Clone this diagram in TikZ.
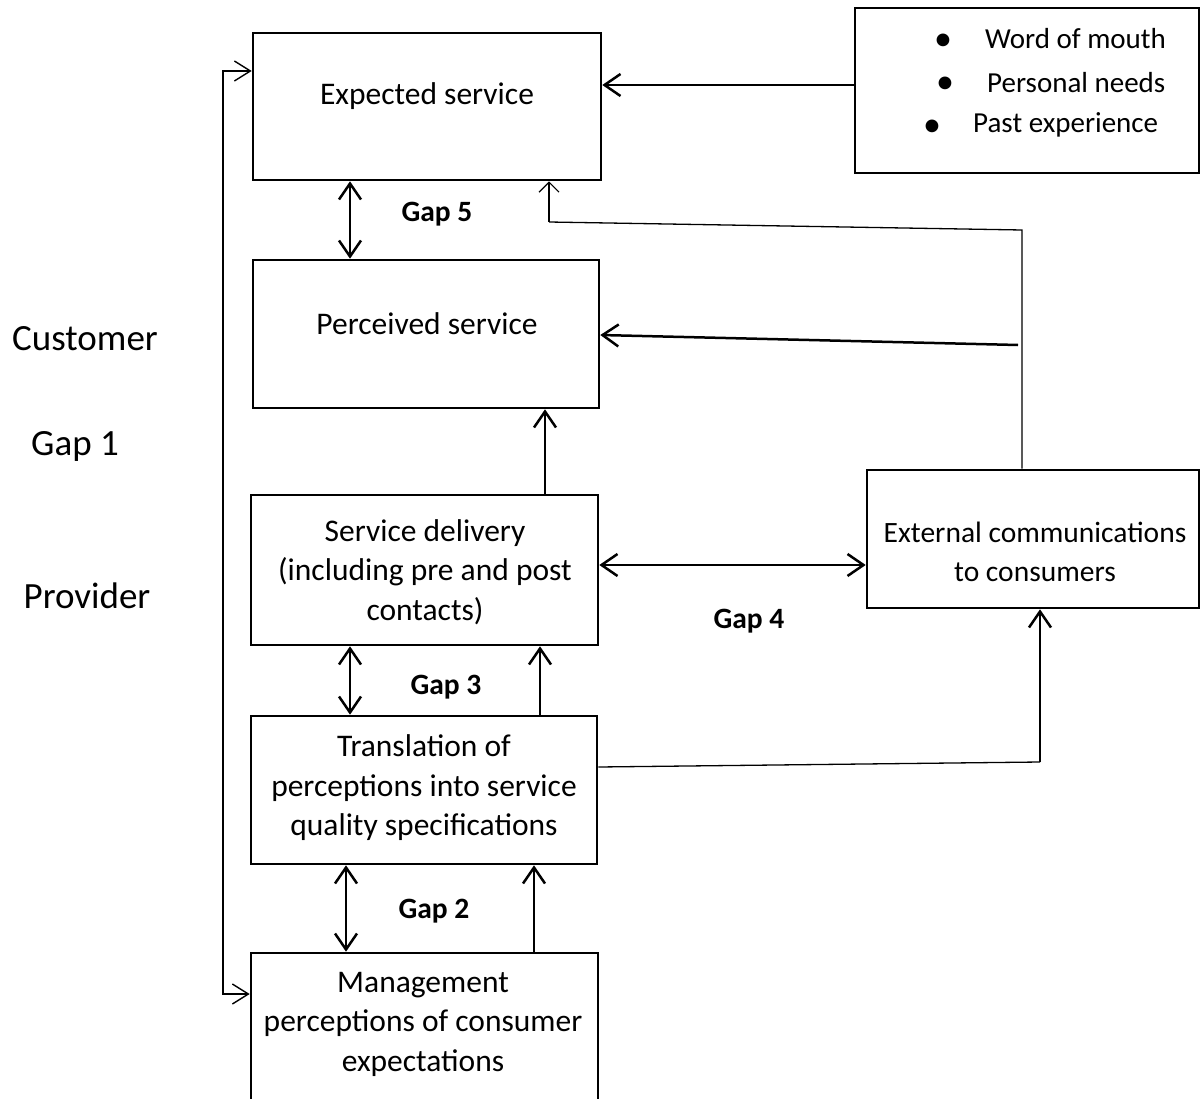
\documentclass[tikz,border=0pt]{standalone}
\usepackage{fontspec}
\setmainfont{Carlito}
\usetikzlibrary{arrows.meta}
\tikzset{
  box/.style={draw, line width=2.6pt, rectangle, inner sep=0pt},
  txt/.style={font=\fontsize{31.5pt}{39.5pt}\selectfont, align=center, inner sep=0pt},
  side/.style={font=\fontsize{37pt}{44pt}\selectfont, inner sep=0pt},
  gaplbl/.style={font=\fontsize{29.5pt}{36pt}\selectfont\bfseries, inner sep=0pt},
  bul/.style={font=\fontsize{29pt}{36pt}\selectfont, inner sep=0pt},
  dot/.style={font=\fontsize{36pt}{36pt}\selectfont, inner sep=0pt},
  arr/.style={line width=2.5pt, -{Straight Barb[length=16pt,width=22pt]}},
  dbl/.style={line width=2.5pt, {Straight Barb[length=16pt,width=22pt]}-{Straight Barb[length=16pt,width=22pt]}},
  thinarr/.style={line width=1.2pt, -{Straight Barb[length=10pt,width=20pt]}},
  loop/.style={line width=1.4pt, {Straight Barb[length=16pt,width=20pt]}-{Straight Barb[length=16pt,width=20pt]}},
  thinline/.style={line width=1.3pt}
}
\begin{document}
\begin{tikzpicture}[x=1pt,y=-1pt]
\useasboundingbox (0,0) rectangle (1201,1099);
% boxes
\node[box, minimum width=348pt, minimum height=147pt] (exp) at (427,106.5) {};
\node[box, minimum width=344pt, minimum height=165pt] (src) at (1027,90.5) {};
\node[box, minimum width=346pt, minimum height=148pt] (per) at (426,334) {};
\node[box, minimum width=347pt, minimum height=150pt] (del) at (424.5,570) {};
\node[box, minimum width=332pt, minimum height=138pt] (ext) at (1033,539) {};
\node[box, minimum width=346pt, minimum height=148pt] (tra) at (424,790) {};
\node[box, minimum width=347pt, minimum height=160pt] (man) at (424.5,1033) {};
% box texts
\node[txt] (texp) at (427,96) {Expected service};
\node[txt] (tper) at (427,324) {Perceived service};
\node[txt] (tdel) at (425,572) {Service delivery\\(including pre and post\\contacts)};
\node[txt, font=\fontsize{29.5pt}{39.5pt}\selectfont] (text) at (1035,552) {External communications\\to consumers};
\node[txt] (ttra) at (424,788) {Translation of\\perceptions into service\\quality specifications};
\node[txt] (tman) at (423,1024) {Management\\perceptions of consumer\\expectations};
% bullets
\node[dot] (b1) at (943,42) {•};
\node[dot] (b2) at (945,85) {•};
\node[dot] (b3) at (932,128) {•};
\node[bul, anchor=west] (w1) at (985,39) {Word of mouth};
\node[bul, anchor=west] (w2) at (987,83) {Personal needs};
\node[bul, anchor=west] (w3) at (973,125) {Past experience};
% side labels
\node[side] (cust) at (85,339) {Customer};
\node[side] (gap1) at (75,446) {Gap 1};
\node[side] (prov) at (87,596) {Provider};
% gap labels
\node[gaplbl] (g5) at (437,214) {Gap 5};
\node[gaplbl] (g4) at (749,621) {Gap 4};
\node[gaplbl] (g3) at (446,687) {Gap 3};
\node[gaplbl] (g2) at (434,911) {Gap 2};
% coordinates
\coordinate (L1) at (223,71);
\coordinate (L2) at (223,994);
\coordinate (c1) at (1022,230);
\coordinate (c2) at (549,222);
\coordinate (c3) at (1018,345);
\coordinate (c4) at (1040,762);
% connectors
\draw[loop] (L1 -| exp.west) -- (L1) -- (L2) -- (L2 -| man.west);
\draw[arr] ([yshift=5.5pt]src.west) -- ([yshift=5.5pt]src.west -| exp.east);
\draw[dbl] ([xshift=-77pt]exp.south) -- ([xshift=-77pt]exp.south |- per.north);
\draw[thinline] ([xshift=-11pt]ext.north) -- (c1) -- (c2);
\draw[thinarr] (c2) -- (c2 |- exp.south);
\draw[arr] (c3) -- ([yshift=-1pt]per.east);
\draw[arr] ([xshift=120.5pt]del.north) -- ([xshift=120.5pt]del.north |- per.south);
\draw[dbl] ([yshift=5pt]del.east) -- ([yshift=5pt]del.east -| ext.west);
\draw[dbl] ([xshift=-74.5pt]del.south) -- ([xshift=-74.5pt]del.south |- tra.north);
\draw[arr] ([xshift=116pt]tra.north) -- ([xshift=116pt]tra.north |- del.south);
\draw[thinline] ([yshift=23pt]tra.east) -- (c4);
\draw[arr] (c4) -- (c4 |- ext.south);
\draw[dbl] ([xshift=-78pt]tra.south) -- ([xshift=-78pt]tra.south |- man.north);
\draw[arr] ([xshift=109.5pt]man.north) -- ([xshift=109.5pt]man.north |- tra.south);
\end{tikzpicture}
\end{document}
